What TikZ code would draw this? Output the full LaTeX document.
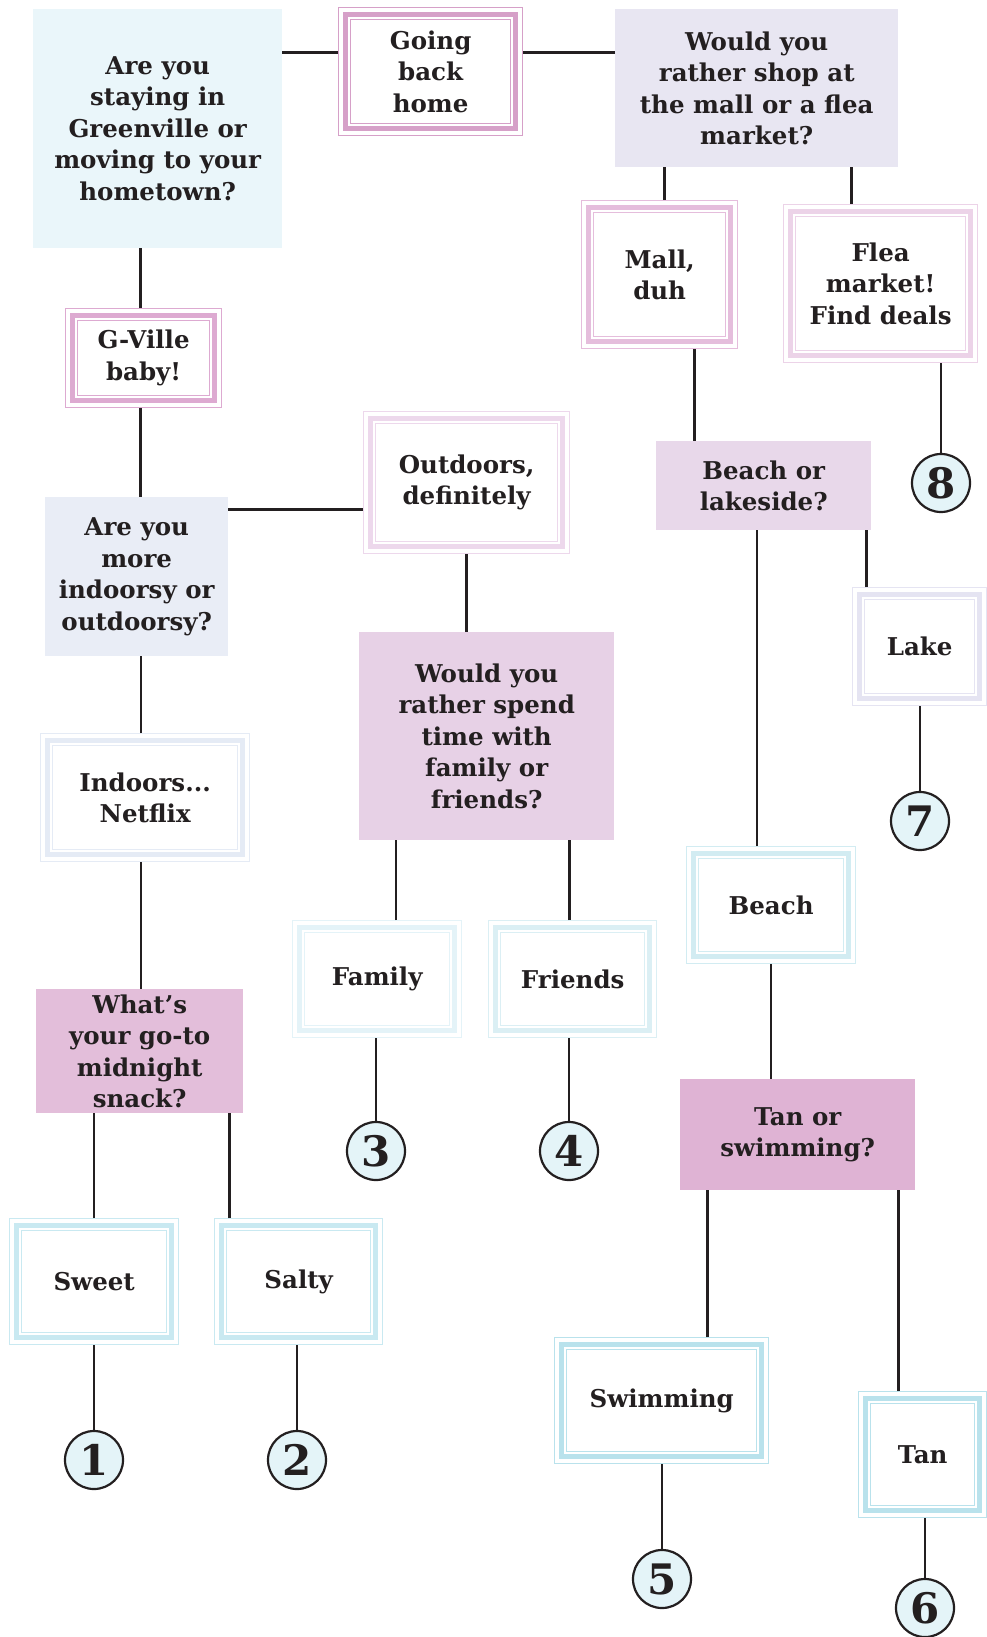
\documentclass[tikz,border=0pt]{standalone}
\usepackage{fontspec}
\setmainfont{DejaVu Serif}
\usepackage{xcolor}
\usepackage{tikz}
\usetikzlibrary{positioning}

\definecolor{linec}{HTML}{231F20}
\definecolor{numfill}{HTML}{E4F4F8}
\definecolor{qonefill}{HTML}{EAF6FA}
\definecolor{qmallfill}{HTML}{E8E6F2}
\definecolor{qindoorfill}{HTML}{E9EDF6}
\definecolor{qfamilyfill}{HTML}{E7D1E6}
\definecolor{qbeachfill}{HTML}{E8D8EA}
\definecolor{qsnackfill}{HTML}{E3BEDA}
\definecolor{qtanfill}{HTML}{DFB3D4}
\definecolor{homeline}{HTML}{D6A0C8}
\definecolor{gvilleline}{HTML}{DDAAD1}
\definecolor{mallline}{HTML}{E5BDDC}
\definecolor{flealine}{HTML}{ECD3E8}
\definecolor{outdoorline}{HTML}{EDD8EC}
\definecolor{lakeline}{HTML}{E5E4F2}
\definecolor{indoorline}{HTML}{E5EBF5}
\definecolor{familyline}{HTML}{E4F3F8}
\definecolor{friendsline}{HTML}{DBEFF4}
\definecolor{beachline}{HTML}{D2ECF2}
\definecolor{snackline}{HTML}{C9E9F1}
\definecolor{tanline}{HTML}{B9E2EC}

\newcommand\boxfont{\fontsize{24.5}{31.5}\selectfont\bfseries}
\newcommand\numfont{\fontsize{42}{42}\selectfont\bfseries}

\tikzset{
  qbox/.style={fill=#1, align=center, inner sep=0pt, font=\boxfont, text=linec},
  abox/.style={draw=#1, line width=1.3pt, fill=white, align=center, inner sep=0pt,
    font=\boxfont, text=linec,
    path picture={
      \draw[#1, line width=4.5pt] ([shift={(7pt,7pt)}]path picture bounding box.south west)
        rectangle ([shift={(-7pt,-7pt)}]path picture bounding box.north east);
      \draw[#1, line width=1.3pt] ([shift={(12pt,12pt)}]path picture bounding box.south west)
        rectangle ([shift={(-12pt,-12pt)}]path picture bounding box.north east);
    }},
  numc/.style={circle, draw=linec, line width=2.2pt, fill=numfill, minimum size=58pt,
    inner sep=0pt, font=\numfont, text=linec},
  link/.style={draw=linec, line width=2.4pt}
}

\begin{document}
\begin{tikzpicture}

\useasboundingbox (0,0) rectangle (987pt,-1637pt);
\coordinate(O1) at (0,0);

% questions
\node[qbox=qonefill, below right=9pt and 33pt of O1, minimum width=249pt, minimum height=239pt](q1) {Are you\\ staying in\\ Greenville or\\ moving to your\\ hometown?};
\node[qbox=qmallfill, below right=9pt and 615pt of O1, minimum width=283pt, minimum height=158pt](qmall) {Would you\\ rather shop at\\ the mall or a flea\\ market?};
\node[qbox=qbeachfill, below right=441pt and 656pt of O1, minimum width=215pt, minimum height=89pt](qbeach) {Beach or\\ lakeside?};
\node[qbox=qtanfill, below right=1079pt and 680pt of O1, minimum width=235pt, minimum height=111pt](qtan) {Tan or\\ swimming?};
\node[qbox=qindoorfill, below right=497pt and 45pt of O1, minimum width=183pt, minimum height=159pt](qindoor) {Are you\\ more\\ indoorsy or\\ outdoorsy?};
\node[qbox=qfamilyfill, below right=632pt and 359pt of O1, minimum width=255pt, minimum height=208pt](qfamily) {Would you\\ rather spend\\ time with\\ family or\\ friends?};
\node[qbox=qsnackfill, below right=989pt and 36pt of O1, minimum width=207pt, minimum height=124pt](qsnack) {What’s\\ your go-to\\ midnight\\ snack?};

% answers
\node[abox=homeline, below right=7pt and 338pt of O1, minimum width=184pt, minimum height=128pt](home) {Going\\ back\\ home};
\node[abox=mallline, below right=200pt and 581pt of O1, minimum width=156pt, minimum height=148pt](mall) {Mall,\\ duh};
\node[abox=flealine, below right=204pt and 783pt of O1, minimum width=194pt, minimum height=158pt](flea) {Flea\\ market!\\ Find deals};
\node[abox=lakeline, below right=587pt and 852pt of O1, minimum width=134pt, minimum height=118pt](lake) {Lake};
\node[abox=beachline, below right=846pt and 686pt of O1, minimum width=169pt, minimum height=117pt](beach) {Beach};
\node[abox=tanline, below right=1337pt and 554pt of O1, minimum width=214pt, minimum height=126pt](swim) {Swimming};
\node[abox=tanline, below right=1391pt and 858pt of O1, minimum width=128pt, minimum height=126pt](tan) {Tan};
\node[abox=gvilleline, below right=308pt and 65pt of O1, minimum width=156pt, minimum height=99pt](gville) {G-Ville\\ baby!};
\node[abox=outdoorline, below right=411pt and 363pt of O1, minimum width=206pt, minimum height=142pt](outdoor) {Outdoors,\\ definitely};
\node[abox=familyline, below right=920pt and 292pt of O1, minimum width=169pt, minimum height=117pt](family) {Family};
\node[abox=friendsline, below right=920pt and 488pt of O1, minimum width=168pt, minimum height=117pt](friends) {Friends};
\node[abox=indoorline, below right=733pt and 40pt of O1, minimum width=209pt, minimum height=128pt](indoors) {Indoors...\\ Netflix};
\node[abox=snackline, below right=1218pt and 9pt of O1, minimum width=169pt, minimum height=126pt](sweet) {Sweet};
\node[abox=snackline, below right=1218pt and 214pt of O1, minimum width=168pt, minimum height=126pt](salty) {Salty};

% endings
\node[numc] at (94pt,-1460pt) (n1) {1};
\node[numc] at (297pt,-1460pt) (n2) {2};
\node[numc] at (376pt,-1151pt) (n3) {3};
\node[numc] at (569pt,-1151pt) (n4) {4};
\node[numc] at (662pt,-1579pt) (n5) {5};
\node[numc] at (925pt,-1608pt) (n6) {6};
\node[numc] at (920pt,-821pt) (n7) {7};
\node[numc] at (941pt,-483pt) (n8) {8};

% connectors
\draw[link] ([yshift=19pt]home.west) -- ([yshift=19pt]home.west -| q1.east);
\draw[link] ([yshift=19pt]home.east) -- ([yshift=19pt]home.east -| qmall.west);
\draw[link] ([xshift=5pt]mall.north) -- ([xshift=5pt]mall.north |- qmall.south);
\draw[link] ([xshift=-29pt]flea.north) -- ([xshift=-29pt]flea.north |- qmall.south);
\draw[link] ([xshift=35pt]mall.south) -- ([xshift=35pt]mall.south |- qbeach.north);
\draw[link] (n8.north) -- (n8.north |- flea.south);
\draw[link] ([xshift=-53pt]lake.north) -- ([xshift=-53pt]lake.north |- qbeach.south);
\draw[link] (n7.north) -- (n7.north |- lake.south);
\draw[link] ([xshift=-14pt]beach.north) -- ([xshift=-14pt]beach.north |- qbeach.south);
\draw[link] (beach.south) -- (beach.south |- qtan.north);
\draw[link] ([xshift=46pt]swim.north) -- ([xshift=46pt]swim.north |- qtan.south);
\draw[link] ([xshift=-24pt]tan.north) -- ([xshift=-24pt]tan.north |- qtan.south);
\draw[link] (n5.north) -- (n5.north |- swim.south);
\draw[link] (n6.north) -- (n6.north |- tan.south);
\draw[link] ([xshift=-3pt]gville.north) -- ([xshift=-3pt]gville.north |- q1.south);
\draw[link] ([xshift=-3pt]gville.south) -- ([xshift=-3pt]gville.south |- qindoor.north);
\draw[link] ([yshift=-27pt]outdoor.west) -- ([yshift=-27pt]outdoor.west -| qindoor.east);
\draw[link] (outdoor.south) -- (outdoor.south |- qfamily.north);
\draw[link] ([xshift=19pt]family.north) -- ([xshift=19pt]family.north |- qfamily.south);
\draw[link] ([xshift=-3pt]friends.north) -- ([xshift=-3pt]friends.north |- qfamily.south);
\draw[link] (n3.north) -- (n3.north |- family.south);
\draw[link] (n4.north) -- (n4.north |- friends.south);
\draw[link] ([xshift=-4pt]indoors.north) -- ([xshift=-4pt]indoors.north |- qindoor.south);
\draw[link] ([xshift=-4pt]indoors.south) -- ([xshift=-4pt]indoors.south |- qsnack.north);
\draw[link] (sweet.north) -- (sweet.north |- qsnack.south);
\draw[link] ([xshift=-69pt]salty.north) -- ([xshift=-69pt]salty.north |- qsnack.south);
\draw[link] (n1.north) -- (n1.north |- sweet.south);
\draw[link] (n2.north) -- (n2.north |- salty.south);
\end{tikzpicture}
\end{document}
